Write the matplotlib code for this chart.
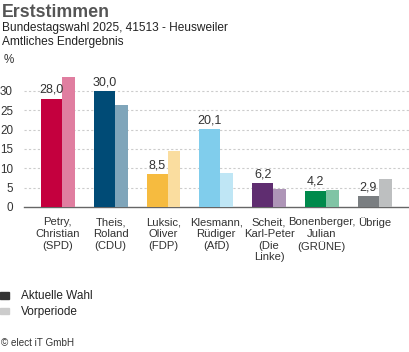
import matplotlib
matplotlib.use("Agg")
import matplotlib.pyplot as plt
from matplotlib.patches import Rectangle
import numpy as np

plt.rcParams['font.family'] = ['Liberation Sans', 'DejaVu Sans']

categories = ["Petry,\nChristian\n(SPD)", "Theis,\nRoland\n(CDU)", "Luksic,\nOliver\n(FDP)",
              "Klesmann,\nRüdiger\n(AfD)", "Scheit,\nKarl-Peter\n(Die\nLinke)",
              "Bonenberger,\nJulian\n(GRÜNE)", "Übrige"]
current = [28.0, 30.0, 8.5, 20.1, 6.2, 4.2, 2.9]
previous = [33.7, 26.4, 14.5, 8.9, 4.7, 4.5, 7.3]
current_labels = ["28,0", "30,0", "8,5", "20,1", "6,2", "4,2", "2,9"]
colors_current = ["#C4003E", "#004B76", "#F6BB3F", "#80CDEC", "#5F2D70", "#008A4C", "#7A7E81"]
colors_previous = ["#E07EA0", "#7FA5BA", "#FADD9F", "#BFE6F5", "#AE95B7", "#80C4A5", "#BDBFC0"]
yticks = [0, 5, 10, 15, 20, 25, 30]

W, H = 410, 352
fig = plt.figure(figsize=(W / 100, H / 100), dpi=100)

def fx(px):
    return px / W

def fy(py):
    return 1 - py / H

ax_left, ax_right, ax_bottom, ax_top = 24, 410, 207, 71.6
ax = fig.add_axes([fx(ax_left), fy(ax_bottom), fx(ax_right - ax_left), (ax_bottom - ax_top) / H])

x = np.arange(len(categories))
ax.bar(x - 0.32, current, width=0.4, align='edge', color=colors_current, zorder=3)
ax.bar(x + 0.08, previous, width=0.24, align='edge', color=colors_previous, zorder=3)

for xi, v, lab in zip(x, current, current_labels):
    ax.annotate(lab, (xi - 0.12, v), xytext=(0, 2), textcoords='offset points',
                ha='center', va='bottom', fontsize=9, color='#333333', zorder=4)

ax.set_xlim(-0.641, 6.669)
ax.set_ylim(0, 35)
ax.set_yticks(yticks)
ax.set_yticklabels([str(t) for t in yticks], fontsize=8.4, color='#333333')
ax.set_xticks(x)
ax.set_xticklabels(categories, fontsize=8.1, color='#333333', linespacing=1.2)
ax.tick_params(axis='both', length=0)
ax.tick_params(axis='y', pad=8)
ax.tick_params(axis='x', pad=7.5)
for t in yticks[1:]:
    ax.axhline(t, color='#CCCCCC', linewidth=0.8, linestyle=(0, (2, 2)), zorder=1)
for s in ['top', 'right', 'left']:
    ax.spines[s].set_visible(False)
ax.spines['bottom'].set_color('#666666')
ax.spines['bottom'].set_linewidth(1)
ax.set_facecolor('none')

fig.text(fx(2), fy(17.3), "Erststimmen", fontsize=12.8, fontweight='bold', color='#555555', va='baseline')
fig.text(fx(2), fy(30.7), "Bundestagswahl 2025, 41513 - Heusweiler", fontsize=8.6, color='#222222', va='baseline')
fig.text(fx(2), fy(45.3), "Amtliches Endergebnis", fontsize=8.6, color='#222222', va='baseline')
fig.text(fx(4), fy(63), "%", fontsize=8.4, color='#333333', va='baseline')

fig.add_artist(Rectangle((fx(0), fy(298.7)), fx(9), 6.4 / H, transform=fig.transFigure, color='#333333'))
fig.add_artist(Rectangle((fx(0), fy(314)), fx(9), 6.4 / H, transform=fig.transFigure, color='#CCCCCC'))
fig.text(fx(20.7), fy(298.7), "Aktuelle Wahl", fontsize=8.5, color='#222222', va='baseline')
fig.text(fx(20.7), fy(314.7), "Vorperiode", fontsize=8.5, color='#222222', va='baseline')
fig.text(fx(1), fy(346.5), "© elect iT GmbH", fontsize=7.1, color='#333333', va='baseline')

fig.savefig("out.png", dpi=100)
